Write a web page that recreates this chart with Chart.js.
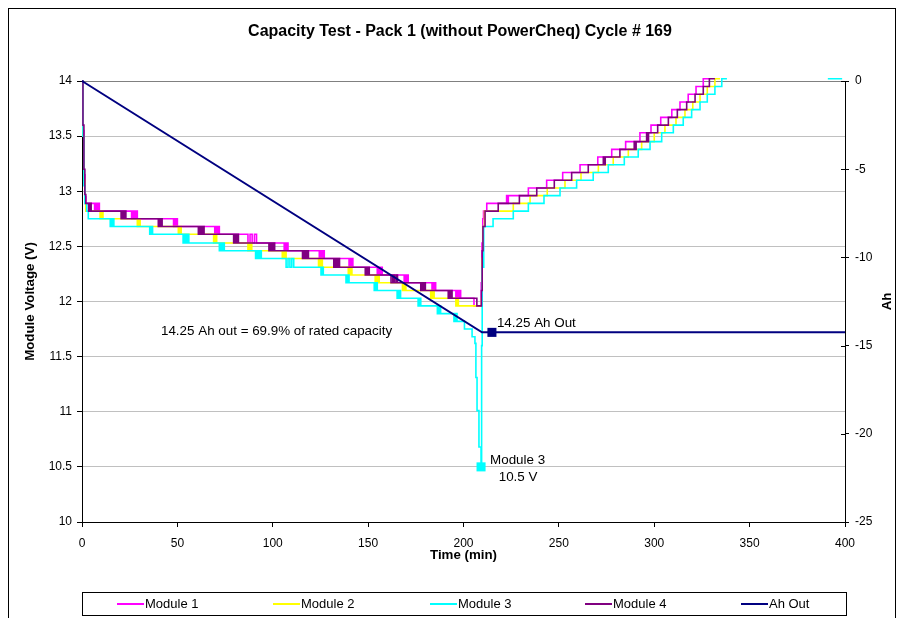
<!DOCTYPE html>
<html>
<head>
<meta charset="utf-8">
<title>Capacity Test - Pack 1 (without PowerCheq) Cycle # 169</title>
<script src="https://cdn.jsdelivr.net/npm/chart.js@4.4.0/dist/chart.umd.min.js"></script>
<style>
  html, body { margin: 0; padding: 0; background: #ffffff; }
  canvas { display: block; }
</style>
</head>
<body>
<canvas id="chart" width="901" height="618"></canvas>
<script>
// ---- Data: [time (min), value] ----
const chartTitle = 'Capacity Test - Pack 1 (without PowerCheq) Cycle # 169';
const seriesNames = ['Module 1', 'Module 2', 'Module 3', 'Module 4', 'Ah Out'];

const module1 = [
  [0, 14.00], [0.5, 13.55], [1, 13.15], [1.5, 12.95], [2, 12.89],
  [6.6, 12.82], [7.2, 12.89], [7.9, 12.82], [8.5, 12.89], [9.1, 12.82],
  [26.0, 12.75], [26.8, 12.82], [27.5, 12.75], [28.3, 12.82], [29.0, 12.75],
  [48.0, 12.68], [48.5, 12.75], [49.0, 12.68], [49.5, 12.75], [50.0, 12.68],
  [69.6, 12.61], [70.2, 12.68], [70.8, 12.61], [71.4, 12.68], [72.0, 12.61],
  [87.0, 12.53], [88.1, 12.61], [89.2, 12.53], [90.4, 12.61], [91.5, 12.53],
  [106.0, 12.46], [106.5, 12.53], [107.0, 12.46], [107.5, 12.53], [108.0, 12.46],
  [124.4, 12.39], [125.0, 12.46], [125.7, 12.39], [126.3, 12.46], [127.0, 12.39],
  [140.0, 12.31], [140.5, 12.39], [141.0, 12.31], [141.5, 12.39], [142.0, 12.31],
  [154.8, 12.24], [155.4, 12.31], [156.1, 12.24], [156.7, 12.31], [157.4, 12.24],
  [168.9, 12.17], [169.4, 12.24], [170.0, 12.17], [170.5, 12.24], [171.0, 12.17],
  [183.5, 12.10], [184.0, 12.17], [184.4, 12.10], [184.9, 12.17], [185.4, 12.10],
  [196.0, 12.03], [196.6, 12.10], [197.2, 12.03], [197.9, 12.10], [198.5, 12.03],
  [205.5, 11.96],
  [209.3, 12.17], [209.7, 12.53], [210.1, 12.75], [210.5, 12.82], [212.2, 12.89],
  [222.6, 12.96], [223.0, 12.89], [223.5, 12.96],
  [234.0, 13.03], [243.6, 13.10], [252.0, 13.17], [261.1, 13.24], [270.4, 13.31],
  [277.7, 13.38], [285.0, 13.45], [292.5, 13.53], [298.3, 13.60], [303.4, 13.67],
  [309.2, 13.74], [313.5, 13.81], [317.8, 13.88], [321.9, 13.95], [325.7, 14.02],
  [329.2, 14.02]
];

const module2 = [
  [0, 14.00], [0.5, 13.50], [1, 13.10], [1.5, 12.89], [2, 12.82],
  [9.5, 12.75], [9.9, 12.82], [10.3, 12.75], [10.6, 12.82], [11.0, 12.75],
  [29.0, 12.68], [29.4, 12.75], [29.8, 12.68], [30.1, 12.75], [30.5, 12.68],
  [50.5, 12.61], [50.9, 12.68], [51.3, 12.61], [51.6, 12.68], [52.0, 12.61],
  [69.0, 12.53], [69.4, 12.61], [69.8, 12.53], [70.2, 12.61], [70.6, 12.53],
  [87.0, 12.46], [87.5, 12.53], [88.0, 12.46], [88.5, 12.53], [89.0, 12.46],
  [105.0, 12.39], [105.5, 12.46], [106.0, 12.39], [106.5, 12.46], [107.0, 12.39],
  [124.0, 12.31], [124.5, 12.39], [125.0, 12.31], [125.5, 12.39], [126.0, 12.31],
  [139.6, 12.24], [140.1, 12.31], [140.6, 12.24], [141.0, 12.31], [141.5, 12.24],
  [153.7, 12.17], [154.2, 12.24], [154.8, 12.17], [155.3, 12.24], [155.8, 12.17],
  [168.0, 12.10], [168.5, 12.17], [168.9, 12.10], [169.4, 12.17], [169.8, 12.10],
  [182.8, 12.03], [183.3, 12.10], [183.7, 12.03], [184.2, 12.10], [184.6, 12.03],
  [196.0, 11.96], [196.3, 12.03], [196.7, 11.96], [197.0, 12.03], [197.3, 11.96],
  [209.4, 12.03], [209.8, 12.39], [210.2, 12.68], [211.0, 12.82],
  [226.1, 12.89], [234.9, 12.96], [243.9, 13.03], [253.2, 13.10], [261.6, 13.17],
  [270.7, 13.24], [278.5, 13.31], [286.4, 13.38], [293.4, 13.45], [300.0, 13.53],
  [305.6, 13.60], [311.4, 13.67], [316.1, 13.74], [320.2, 13.81], [324.0, 13.88],
  [327.8, 13.95], [331.8, 14.02], [334.5, 14.02]
];

const module3 = [
  [0, 14.00], [0.5, 13.50], [1, 13.05], [1.5, 12.89], [2.5, 12.82], [3.3, 12.75],
  [14.8, 12.68], [15.3, 12.75], [15.8, 12.68], [16.2, 12.75], [16.7, 12.68],
  [35.5, 12.61], [35.9, 12.68], [36.3, 12.61], [36.6, 12.68], [37.0, 12.61],
  [53.0, 12.53], [53.8, 12.61], [54.5, 12.53], [55.3, 12.61], [56.0, 12.53],
  [72.0, 12.46], [72.7, 12.53], [73.3, 12.46], [74.0, 12.53], [74.6, 12.46],
  [91.0, 12.39], [91.8, 12.46], [92.5, 12.39], [93.3, 12.46], [94.0, 12.39],
  [107.0, 12.31], [108.0, 12.39], [109.0, 12.31], [110.0, 12.39], [111.0, 12.31],
  [125.3, 12.24], [125.6, 12.31], [125.9, 12.24], [126.2, 12.31], [126.5, 12.24],
  [138.4, 12.17], [138.8, 12.24], [139.2, 12.17], [139.6, 12.24], [140.0, 12.17],
  [153.2, 12.10], [153.6, 12.17], [154.0, 12.10], [154.4, 12.17], [154.8, 12.10],
  [165.2, 12.03], [165.7, 12.10], [166.1, 12.03], [166.6, 12.10], [167.0, 12.03],
  [176.2, 11.96], [176.6, 12.03], [176.9, 11.96], [177.3, 12.03], [177.6, 11.96],
  [186.3, 11.89], [186.7, 11.96], [187.2, 11.89], [187.6, 11.96], [188.0, 11.89],
  [195.0, 11.82], [195.4, 11.89], [195.8, 11.82], [196.2, 11.89], [196.6, 11.82],
  [200.5, 11.75], [204.5, 11.68], [206.0, 11.62], [206.5, 11.31], [207.1, 11.01],
  [208.1, 10.68], [209.2, 10.50],
  [209.5, 11.60], [209.8, 12.31], [210.6, 12.68], [215.5, 12.75],
  [226.1, 12.82], [234.0, 12.89], [242.2, 12.96], [250.6, 13.03], [259.3, 13.10],
  [268.0, 13.17], [275.9, 13.24], [284.3, 13.31], [291.6, 13.38], [297.8, 13.45],
  [303.9, 13.53], [310.0, 13.60], [315.2, 13.67], [319.6, 13.74], [324.0, 13.81],
  [327.8, 13.88], [331.8, 13.95], [335.4, 14.02], [338.1, 14.02],
  [338.2, null],
  [391.0, 14.02], [398.5, 14.02]
];

const module4 = [
  [0, 14.00], [0.5, 13.60], [1, 13.20], [1.5, 12.97], [2, 12.89],
  [3.5, 12.82], [3.8, 12.89], [4.2, 12.82], [4.5, 12.89], [4.8, 12.82],
  [20.5, 12.75], [21.1, 12.82], [21.8, 12.75], [22.4, 12.82], [23.0, 12.75],
  [40.0, 12.68], [40.5, 12.75], [41.0, 12.68], [41.5, 12.75], [42.0, 12.68],
  [61.0, 12.61], [61.8, 12.68], [62.5, 12.61], [63.3, 12.68], [64.0, 12.61],
  [79.5, 12.53], [80.1, 12.61], [80.8, 12.53], [81.4, 12.61], [82.0, 12.53],
  [98.0, 12.46], [98.8, 12.53], [99.5, 12.46], [100.3, 12.53], [101.0, 12.46],
  [115.6, 12.39], [116.4, 12.46], [117.2, 12.39], [117.9, 12.46], [118.7, 12.39],
  [132.0, 12.31], [132.8, 12.39], [133.5, 12.31], [134.3, 12.39], [135.0, 12.31],
  [148.5, 12.24], [149.0, 12.31], [149.6, 12.24], [150.1, 12.31], [150.6, 12.24],
  [162.0, 12.17], [162.9, 12.24], [163.7, 12.17], [164.6, 12.24], [165.4, 12.17],
  [177.6, 12.10], [178.2, 12.17], [178.8, 12.10], [179.4, 12.17], [180.0, 12.10],
  [192.0, 12.03], [192.5, 12.10], [193.0, 12.03], [193.5, 12.10], [194.0, 12.03],
  [207.0, 11.96],
  [209.4, 12.10], [209.8, 12.46], [210.2, 12.68], [211.3, 12.82],
  [218.2, 12.89], [229.3, 12.96], [238.4, 13.03], [247.6, 13.10], [256.7, 13.17],
  [265.4, 13.24],
  [273.3, 13.31], [273.8, 13.24], [274.3, 13.31],
  [282.0, 13.38],
  [289.5, 13.45], [290.0, 13.38], [290.5, 13.45],
  [296.0, 13.53], [296.5, 13.45], [297.0, 13.53],
  [301.8, 13.60], [307.4, 13.67], [312.1, 13.74], [317.0, 13.81], [321.4, 13.88],
  [325.7, 13.95], [328.9, 14.02], [331.8, 14.02]
];

const ahOut = [
  [0, 0], [209.7, -14.25], [214.9, -14.25], [400, -14.25]
];

// Highlighted points (also present in the series above)
const module3Low = { t: 209.2, v: 10.5 };
const ahOutMark = { t: 214.9, v: -14.25 };
const ratedShare = '69.9%';

// Axis tick settings
const timeRange = [0, 400, 50];
const voltRange = [10, 14, 0.5];
const ahRange = [-25, 0, 5];

// ---- Styling ----
const FONT = '"Liberation Sans", Arial, sans-serif';
const colors = ['#ff00ff', '#ffff00', '#00ffff', '#800080', '#000080'];

const toXY = arr => arr.map(([x, y]) => ({ x, y }));
const plainNumber = v => String(Number(v.toFixed(2)));
const noEdgePadding = s => { s.paddingTop = 0; s.paddingBottom = 0; };

const moduleSeries = [module1, module2, module3, module4];
const datasets = moduleSeries.map((d, i) => ({
  label: seriesNames[i],
  data: toXY(d),
  yAxisID: 'y',
  borderColor: colors[i],
  backgroundColor: colors[i],
  borderWidth: 1.6,
  stepped: true,
  spanGaps: false,
  clip: 6,
  order: 4 - i,
  pointStyle: 'rect',
  pointRadius: i === 2 ? (ctx => (ctx.raw && ctx.raw.x === module3Low.t && ctx.raw.y === module3Low.v ? 6.4 : 0)) : 0,
  pointBorderWidth: 0,
  pointHoverRadius: 0
}));
datasets.push({
  label: seriesNames[4],
  data: toXY(ahOut),
  yAxisID: 'y2',
  borderColor: colors[4],
  backgroundColor: colors[4],
  borderWidth: 2,
  order: 0,
  clip: 4,
  pointStyle: 'rect',
  pointRadius: ctx => (ctx.raw && ctx.raw.x === ahOutMark.t ? 6.4 : 0),
  pointBorderWidth: 0,
  pointHoverRadius: 0
});

// Title, text notes, frame, legend and right-axis title
const decorations = {
  id: 'decorations',
  beforeDraw(chart) {
    const { ctx } = chart;
    ctx.save();
    ctx.fillStyle = '#ffffff';
    ctx.fillRect(0, 0, chart.width, chart.height);
    ctx.restore();
  },
  afterDatasetsDraw(chart) {
    const { ctx, scales: { x, y, y2 }, chartArea } = chart;
    ctx.save();
    // inner half of the cross ticks on the Ah axis
    ctx.strokeStyle = '#000';
    ctx.lineWidth = 1;
    y2.ticks.forEach(t => {
      const py = Math.round(y2.getPixelForValue(t.value)) + 0.5;
      ctx.beginPath();
      ctx.moveTo(chartArea.right - 4, py);
      ctx.lineTo(chartArea.right, py);
      ctx.stroke();
    });

    ctx.fillStyle = '#000';
    ctx.font = '13.4px ' + FONT;
    ctx.textBaseline = 'middle';
    ctx.textAlign = 'left';

    const ax = x.getPixelForValue(ahOutMark.t);
    const ay = y2.getPixelForValue(ahOutMark.v);
    ctx.fillText(`${-ahOutMark.v} Ah Out`, ax + 5, ay - 9);

    const mx = x.getPixelForValue(module3Low.t);
    const my = y.getPixelForValue(module3Low.v);
    ctx.fillText('Module 3', mx + 9, my - 7);
    ctx.textAlign = 'center';
    ctx.fillText(`${module3Low.v} V`, mx + 37, my + 10);

    ctx.textAlign = 'left';
    ctx.fillText(`${-ahOutMark.v} Ah out = ${ratedShare} of rated capacity`,
      x.getPixelForValue(41.4), y.getPixelForValue(11.73));
    ctx.restore();
  },
  afterDraw(chart) {
    const { ctx, chartArea } = chart;
    ctx.save();
    // chart title
    ctx.fillStyle = '#000';
    ctx.font = 'bold 16px ' + FONT;
    ctx.textAlign = 'center';
    ctx.textBaseline = 'middle';
    ctx.fillText(chartTitle, 460, 32);

    // right axis title
    ctx.font = 'bold 13.3px ' + FONT;
    ctx.translate(887, (chartArea.top + chartArea.bottom) / 2);
    ctx.rotate(-Math.PI / 2);
    ctx.fillText('Ah', 0, 0);
    ctx.restore();

    ctx.save();
    // outer frame
    ctx.strokeStyle = '#000';
    ctx.lineWidth = 1;
    ctx.strokeRect(8.5, 8.5, 887, 700);

    // legend
    const lx = 82.5, ly = 592.5, lw = 764, lh = 23;
    ctx.strokeRect(lx, ly, lw, lh);
    ctx.font = '13px ' + FONT;
    ctx.textAlign = 'left';
    ctx.textBaseline = 'middle';
    const starts = [117, 273, 430, 585, 741];
    const cy = ly + lh / 2;
    chart.data.datasets.forEach((ds, i) => {
      ctx.strokeStyle = ds.borderColor;
      ctx.lineWidth = 2;
      ctx.beginPath();
      ctx.moveTo(starts[i], cy);
      ctx.lineTo(starts[i] + 27, cy);
      ctx.stroke();
      ctx.fillStyle = '#000';
      ctx.fillText(ds.label, starts[i] + 28, cy);
    });
    ctx.restore();
  }
};

new Chart(document.getElementById('chart'), {
  type: 'line',
  data: { datasets },
  plugins: [decorations],
  options: {
    responsive: false,
    animation: false,
    devicePixelRatio: 1,
    events: [],
    layout: { padding: { left: 8, right: 8, top: 81, bottom: 54 } },
    plugins: {
      legend: { display: false },
      tooltip: { enabled: false },
      title: { display: false }
    },
    scales: {
      x: {
        type: 'linear',
        min: timeRange[0], max: timeRange[1],
        afterFit: s => { s.height = 42; },
        ticks: { stepSize: timeRange[2], color: '#000', font: { family: FONT, size: 12 }, padding: 9, maxRotation: 0 },
        grid: { drawOnChartArea: false, drawTicks: true, tickLength: 5, tickColor: '#000' },
        border: { display: true, color: '#000', width: 1 },
        title: { display: true, text: 'Time (min)', color: '#000', font: { family: FONT, size: 13.3, weight: 'bold' }, padding: { top: 0, bottom: 1 } }
      },
      y: {
        type: 'linear',
        position: 'left',
        min: voltRange[0], max: voltRange[1],
        afterFit: s => { s.width = 74; noEdgePadding(s); },
        ticks: { stepSize: voltRange[2], color: '#000', font: { family: FONT, size: 12 }, padding: 5, callback: plainNumber },
        grid: {
          color: ctx => (ctx.tick && ctx.tick.value === voltRange[1] ? '#808080' : '#c0c0c0'),
          tickColor: '#000', tickLength: 5, lineWidth: 1
        },
        border: { display: true, color: '#000', width: 1 },
        title: { display: true, text: 'Module Voltage (V)', color: '#000', font: { family: FONT, size: 13.3, weight: 'bold' }, padding: { top: 14, bottom: 0 } }
      },
      y2: {
        type: 'linear',
        position: 'right',
        min: ahRange[0], max: ahRange[1],
        afterFit: s => { s.width = 48; noEdgePadding(s); },
        ticks: { stepSize: ahRange[2], color: '#000', font: { family: FONT, size: 12 }, padding: 6, callback: plainNumber },
        grid: { drawOnChartArea: false, tickColor: '#000', tickLength: 4 },
        border: { display: true, color: '#000', width: 1 }
      }
    }
  }
});
</script>
</body>
</html>
